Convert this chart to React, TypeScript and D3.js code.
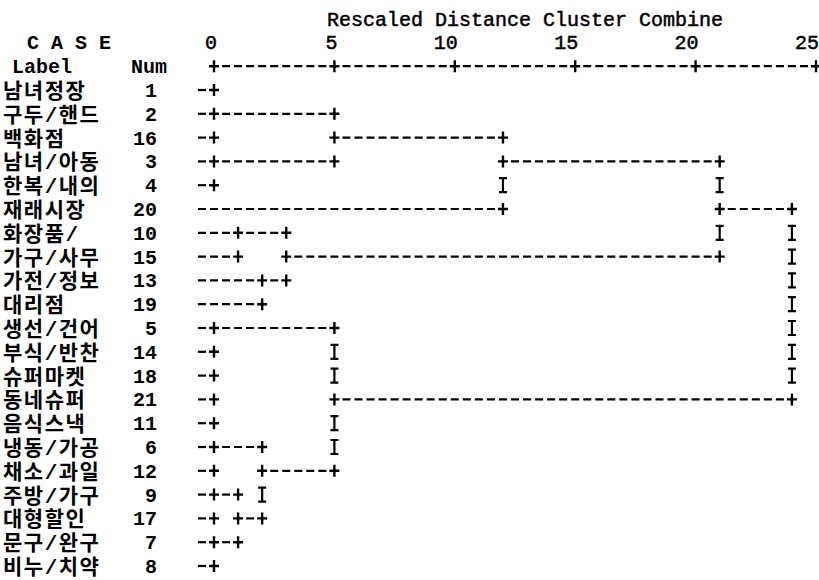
import { useEffect, useRef } from "react";
import * as d3 from "d3";

// case number -> label (SPSS case list)
const caseNums = [1, 2, 3, 4, 5, 6, 7, 8, 9, 10, 11, 12, 13, 14, 15, 16, 17, 18, 19, 20, 21];
const caseLabels = [
  "남녀정장", "구두/핸드", "남녀/아동", "한복/내의", "생선/건어", "냉동/가공", "문구/완구",
  "비누/치약", "주방/가구", "화장품/", "음식스낵", "채소/과일", "가전/정보", "부식/반찬",
  "가구/사무", "백화점", "대형할인", "슈퍼마켓", "대리점", "재래시장", "동네슈퍼",
];

// agglomeration schedule: negative = case number, positive = earlier step (1-based)
const mergeA = [-1, 1, -3, 2, 4, -10, -13, 6, 5, -21, -18, -14, -5, -6, -9, -7, 15, 14, 13, 9];
const mergeB = [-2, -16, -4, 3, -20, -15, -19, 7, 8, -11, 10, 11, 12, -12, -17, -8, 16, 17, 18, 19];
// rescaled distance at which each step joins
const mergeDist = [0, 0, 0, 5, 12, 1, 2, 3, 21, 0, 0, 0, 0, 0, 0, 0, 1, 2, 5, 24];

const tickValues = [0, 5, 10, 15, 20, 25];
const title = "Rescaled Distance Cluster Combine";

const App = () => {
  const ref = useRef<SVGSVGElement>(null);

  useEffect(() => {
    const width = 819;
    const height = 580;
    const mono = "'Liberation Mono', 'DejaVu Sans Mono', monospace";

    const svg = d3.select(ref.current).attr("width", width).attr("height", height);
    svg.selectAll("*").remove();

    const x = d3.scaleLinear().domain([0, 25]).range([214, 816]);
    const colX = (c: number) => x(c / 2);
    const cellW = colX(1) - colX(0);
    const rowY = d3.scaleLinear().domain([0, 20]).range([90, 566]);

    // leaf order from the tree
    const nSteps = mergeA.length;
    const order: number[] = [];
    const walk = (n: number) => {
      if (n < 0) order.push(-n);
      else {
        walk(mergeA[n - 1]);
        walk(mergeB[n - 1]);
      }
    };
    walk(nSteps);

    const leafRow = new Map<number, number>();
    order.forEach((c, i) => leafRow.set(c, i));
    const stepRow: number[] = [];
    const nodeRow = (n: number) => (n < 0 ? leafRow.get(-n)! : stepRow[n - 1]);

    const cells = new Map<string, { row: number; col: number; ch: string }>();
    const segs: { row: number; from: number; to: number }[] = [];
    const put = (row: number, col: number, ch: string) => {
      const k = row + "," + col;
      const prev = cells.get(k);
      if (!prev || ch === "+") cells.set(k, { row, col, ch });
    };

    for (let i = 0; i < nSteps; i++) {
      const a = mergeA[i];
      const b = mergeB[i];
      const ra = nodeRow(a);
      const rb = nodeRow(b);
      const c = mergeDist[i] * 2;
      const root = i === nSteps - 1;
      const mid = Math.floor((ra + rb) / 2);
      stepRow[i] = mid;
      for (let r = Math.min(ra, rb); r <= Math.max(ra, rb); r++) {
        put(r, c, r === ra || r === rb || (!root && r === mid) ? "+" : "I");
      }
      [a, b].forEach((n) => {
        const from = n < 0 ? -1 : mergeDist[n - 1] * 2 + 1;
        if (from <= c - 1) segs.push({ row: nodeRow(n), from, to: c - 1 });
      });
    }

    // axis row
    tickValues.forEach((t, i) => {
      put(-1, t * 2, "+");
      if (i > 0) segs.push({ row: -1, from: tickValues[i - 1] * 2 + 1, to: t * 2 - 1 });
    });

    const g = svg.append("g");

    // dashes
    g.selectAll("line.dash")
      .data(segs)
      .enter()
      .append("line")
      .attr("class", "dash")
      .attr("x1", (d) => colX(d.from) - cellW / 2 + 2)
      .attr("x2", (d) => colX(d.to) + cellW / 2 - 2)
      .attr("y1", (d) => rowY(d.row))
      .attr("y2", (d) => rowY(d.row))
      .attr("stroke", "#000")
      .attr("stroke-width", 2.2)
      .attr("stroke-dasharray", `${cellW - 4} 4`);

    // junctions '+' and vertical 'I'
    const cellData = Array.from(cells.values());
    g.selectAll("path.cell")
      .data(cellData)
      .enter()
      .append("path")
      .attr("class", "cell")
      .attr("d", (d) => {
        const cx = colX(d.col);
        const cy = rowY(d.row);
        if (d.ch === "+") return `M${cx - 5},${cy}H${cx + 5}M${cx},${cy - 6}V${cy + 6}`;
        return `M${cx},${cy - 7}V${cy + 7}M${cx - 4},${cy - 7}H${cx + 4}M${cx - 4},${cy + 7}H${cx + 4}`;
      })
      .attr("fill", "none")
      .attr("stroke", "#000")
      .attr("stroke-width", (d) => (d.ch === "+" ? 2.4 : 2.2));

    // title and tick labels
    svg.append("text")
      .attr("x", 327)
      .attr("y", rowY(-3) + 7)
      .style("font-family", mono)
      .style("font-size", "20px")
      .style("stroke", "#000")
      .style("stroke-width", "0.5px")
      .text(title);

    svg.selectAll("text.tick")
      .data(tickValues)
      .enter()
      .append("text")
      .attr("class", "tick")
      .attr("x", (d) => colX(d * 2) + cellW / 2 - 3)
      .attr("y", rowY(-2) + 7)
      .attr("text-anchor", "end")
      .style("font-family", mono)
      .style("font-size", "20px")
      .style("stroke", "#000")
      .style("stroke-width", "0.5px")
      .text((d) => String(d));

    svg.append("text")
      .attr("x", 27)
      .attr("y", rowY(-2) + 7)
      .style("font-family", mono)
      .style("font-size", "20px")
      .style("font-weight", "700")
      .text("C A S E");
    svg.append("text")
      .attr("x", 12)
      .attr("y", rowY(-1) + 7)
      .style("font-family", mono)
      .style("font-size", "20px")
      .style("font-weight", "700")
      .text("Label");
    svg.append("text")
      .attr("x", 131)
      .attr("y", rowY(-1) + 7)
      .style("font-family", mono)
      .style("font-size", "20px")
      .style("font-weight", "700")
      .text("Num");

    // case labels and numbers
    svg.selectAll("text.label")
      .data(order)
      .enter()
      .append("text")
      .attr("class", "label")
      .attr("x", 3)
      .attr("y", (d, i) => rowY(i) + 8)
      .style("font-family", "'Liberation Mono', 'Noto Sans CJK KR', sans-serif")
      .style("font-size", "21px")
      .style("font-weight", "700")
      .style("letter-spacing", "1.5px")
      .text((d) => caseLabels[caseNums.indexOf(d)]);

    svg.selectAll("text.num")
      .data(order)
      .enter()
      .append("text")
      .attr("class", "num")
      .attr("x", 157)
      .attr("y", (d, i) => rowY(i) + 7)
      .attr("text-anchor", "end")
      .style("font-family", mono)
      .style("font-size", "20px")
      .style("font-weight", "700")
      .text((d) => String(d));
  }, []);

  return (
    <svg
      ref={ref}
      style={{ position: "absolute", left: 0, top: 0, background: "#fff", display: "block" }}
    ></svg>
  );
};

export default App;
